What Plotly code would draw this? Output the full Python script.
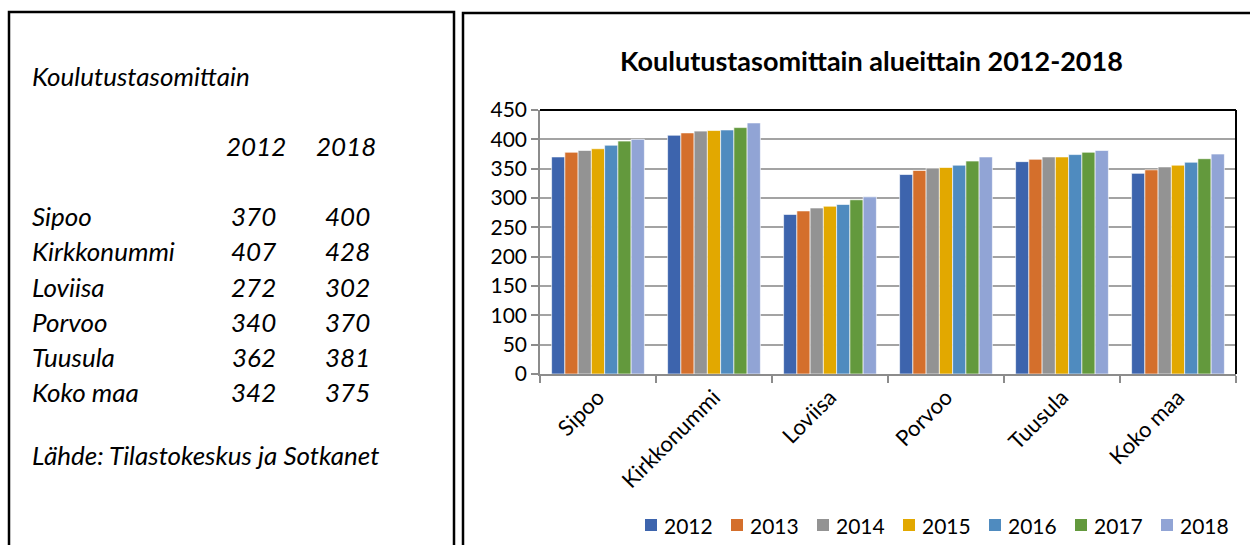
import plotly.graph_objects as go

W, H = 1250, 545

categories = ["Sipoo", "Kirkkonummi", "Loviisa", "Porvoo", "Tuusula", "Koko maa"]
years = ["2012", "2013", "2014", "2015", "2016", "2017", "2018"]
v2012 = [370, 407, 272, 340, 362, 342]
v2013 = [378, 411, 278, 347, 366, 348]
v2014 = [381, 414, 283, 351, 370, 353]
v2015 = [384, 415, 286, 352, 370, 356]
v2016 = [390, 416, 289, 356, 374, 361]
v2017 = [397, 420, 297, 363, 378, 367]
v2018 = [400, 428, 302, 370, 381, 375]
series = [v2012, v2013, v2014, v2015, v2016, v2017, v2018]
colors = ["#3D64AD", "#D46F2C", "#939393", "#E2A800", "#4F8BBF", "#63993D", "#91A4D5"]
y_ticks = [0, 50, 100, 150, 200, 250, 300, 350, 400, 450]

title_text = "Koulutustasomittain alueittain 2012-2018"
left_title = "Koulutustasomittain"
source_text = "Lähde: Tilastokeskus ja Sotkanet"

FONT = "Lato, 'Open Sans', sans-serif"

def px(x):
    return x / W

def py(y):
    return 1 - y / H

fig = go.Figure()
for name, vals, col in zip(years, series, colors):
    fig.add_trace(go.Bar(
        x=categories, y=vals, name=name,
        marker=dict(color=col, line=dict(color="rgba(255,255,255,0.8)", width=0.8)),
    ))

# plot area: x 540..1236, y 110..374
fig.update_layout(
    width=W, height=H,
    margin=dict(l=0, r=0, t=0, b=0),
    paper_bgcolor="white", plot_bgcolor="white",
    barmode="group", bargap=0.2, bargroupgap=0,
    font=dict(family=FONT, size=20, color="#000000"),
    showlegend=False,
    xaxis=dict(domain=[px(540), px(1236)], showline=True, linecolor="#8C8C8C", linewidth=1.5,
               ticks="outside", tickson="boundaries", ticklen=7, tickcolor="#8C8C8C", tickwidth=1.5,
               tickangle=-45, tickfont=dict(size=22), showgrid=False, automargin=False),
    yaxis=dict(domain=[py(374), py(110)], range=[0, 450], tickvals=y_ticks,
               showgrid=True, gridcolor="#A3A3A3", gridwidth=2, zeroline=False,
               showline=True, linecolor="#8C8C8C", linewidth=1.5,
               ticks="outside", ticklen=7, tickcolor="#8C8C8C", tickwidth=1.5,
               tickfont=dict(size=21), automargin=False),
)

shapes = [
    # left panel border
    dict(type="rect", xref="paper", yref="paper", x0=px(9), x1=px(454), y0=py(560), y1=py(12),
         line=dict(color="black", width=2.5)),
    # right panel border
    dict(type="rect", xref="paper", yref="paper", x0=px(463), x1=px(1270), y0=py(560), y1=py(13),
         line=dict(color="black", width=2.5)),
    # plot area top & right border
    dict(type="line", xref="paper", yref="paper", x0=px(540), x1=px(1236), y0=py(110), y1=py(110),
         line=dict(color="black", width=2)),
    dict(type="line", xref="paper", yref="paper", x0=px(1236), x1=px(1236), y0=py(110), y1=py(374),
         line=dict(color="black", width=2)),
]

ann = []
# legend (drawn manually: coloured squares + labels)
LEG_X0, LEG_STEP, LEG_Y, SQ = 645, 86, 525, 12
for i, (name, col) in enumerate(zip(years, colors)):
    x0 = LEG_X0 + i * LEG_STEP
    shapes.append(dict(type="rect", xref="paper", yref="paper",
                       x0=px(x0), x1=px(x0 + SQ), y0=py(LEG_Y + SQ / 2), y1=py(LEG_Y - SQ / 2),
                       fillcolor=col, line=dict(width=0)))
    ann.append(dict(text=name, x=px(x0 + SQ + 5), y=py(LEG_Y), xanchor="left", yanchor="middle",
                    font=dict(size=21, family=FONT)))
fig.update_layout(shapes=shapes)

ann.append(dict(text="<b>" + title_text + "</b>", x=px(871), y=py(61), xanchor="center", yanchor="middle",
                font=dict(size=27, family=FONT)))
LS = 26
ann.append(dict(text="<i>" + left_title + "</i>", x=px(30), y=py(76), xanchor="left", yanchor="middle",
                font=dict(size=LS, family=FONT)))
ann.append(dict(text="<i>" + years[0] + "</i>", x=px(288), y=py(146), xanchor="right", yanchor="middle",
                font=dict(size=LS, family=FONT)))
ann.append(dict(text="<i>" + years[-1] + "</i>", x=px(378), y=py(146), xanchor="right", yanchor="middle",
                font=dict(size=LS, family=FONT)))
row_y = [216, 251, 287, 322, 357, 392]
for cat, a, b, yy in zip(categories, v2012, v2018, row_y):
    ann.append(dict(text="<i>" + cat + "</i>", x=px(30), y=py(yy), xanchor="left", yanchor="middle",
                    font=dict(size=LS, family=FONT)))
    ann.append(dict(text="<i>" + str(a) + "</i>", x=px(278), y=py(yy), xanchor="right", yanchor="middle",
                    font=dict(size=LS, family=FONT)))
    ann.append(dict(text="<i>" + str(b) + "</i>", x=px(372), y=py(yy), xanchor="right", yanchor="middle",
                    font=dict(size=LS, family=FONT)))
ann.append(dict(text="<i>" + source_text + "</i>", x=px(30), y=py(455), xanchor="left", yanchor="middle",
                font=dict(size=LS, family=FONT)))
for a in ann:
    a.update(xref="paper", yref="paper", showarrow=False)
fig.update_layout(annotations=ann)

fig.write_html("out.html", config={"displayModeBar": False},
               post_script="document.body.style.margin='0px';document.body.style.padding='0px';document.body.style.overflow='hidden';")
